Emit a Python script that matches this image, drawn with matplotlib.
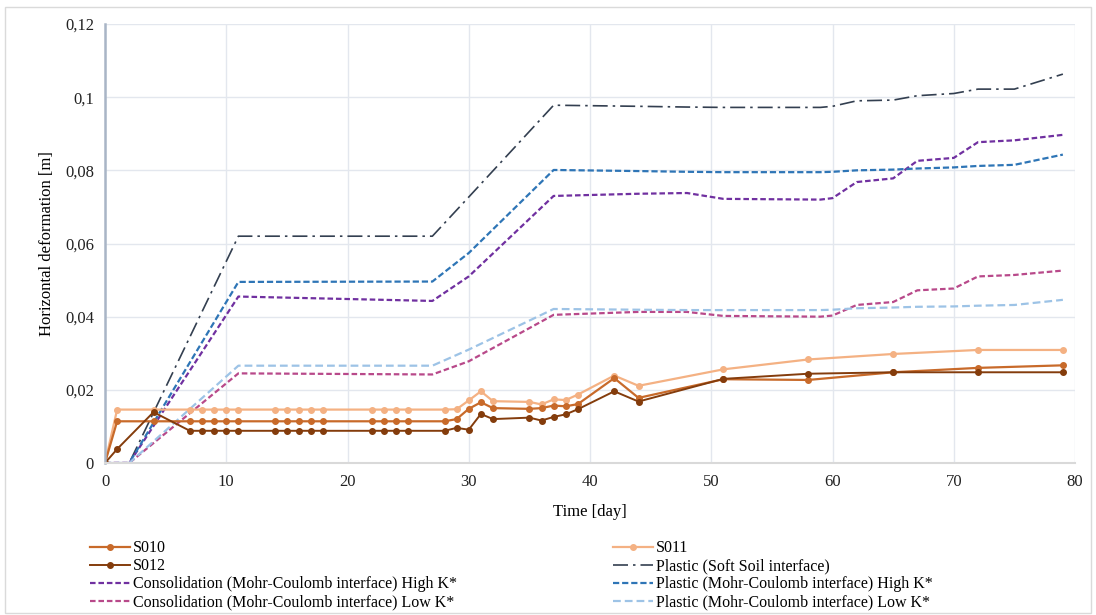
import matplotlib
matplotlib.use("Agg")
import matplotlib.pyplot as plt
from matplotlib.patches import Rectangle

# measured data (days and deformations in m)
days_meas = [0, 1, 4, 7, 8, 9, 10, 11, 14, 15, 16, 17, 18, 22, 23, 24, 25,
             28, 29, 30, 31, 32, 35, 36, 37, 38, 39, 42, 44, 51, 58, 65, 72, 79]
s010 = [0, 0.0114, 0.0114, 0.0114, 0.0114, 0.0114, 0.0114, 0.0114, 0.0114,
        0.0114, 0.0114, 0.0114, 0.0114, 0.0114, 0.0114, 0.0114, 0.0114,
        0.0114, 0.0120, 0.0148, 0.0166, 0.0150, 0.0148, 0.0150, 0.0157,
        0.0155, 0.0161, 0.0232, 0.0178, 0.0229, 0.0227, 0.0248, 0.0260, 0.0267]
s011 = [0, 0.0146, 0.0146, 0.0146, 0.0146, 0.0146, 0.0146, 0.0146, 0.0146,
        0.0146, 0.0146, 0.0146, 0.0146, 0.0146, 0.0146, 0.0146, 0.0146,
        0.0146, 0.0147, 0.0171, 0.0196, 0.0169, 0.0167, 0.0160, 0.0174,
        0.0172, 0.0187, 0.0239, 0.0211, 0.0256, 0.0283, 0.0298, 0.0309, 0.0309]
s012 = [0, 0.0038, 0.0139, 0.0088, 0.0088, 0.0088, 0.0088, 0.0088, 0.0088,
        0.0088, 0.0088, 0.0088, 0.0088, 0.0088, 0.0088, 0.0088, 0.0088,
        0.0088, 0.0096, 0.0091, 0.0134, 0.0120, 0.0124, 0.0116, 0.0126,
        0.0133, 0.0147, 0.0196, 0.0168, 0.0230, 0.0244, 0.0248, 0.0248, 0.0248]

# simulation results
days_sim = [0, 2, 11, 27, 30, 37, 44, 48, 51, 59, 60, 62, 65, 67, 70, 72, 75, 79]
plastic_ss = [0, 0, 0.0620, 0.0620, 0.0727, 0.0978, 0.0975, 0.0973, 0.0972,
              0.0972, 0.0975, 0.0990, 0.0992, 0.1004, 0.1010, 0.1022, 0.1022, 0.1063]
cons_high = [0, 0, 0.0455, 0.0443, 0.0510, 0.0730, 0.0736, 0.0738, 0.0722,
             0.0720, 0.0724, 0.0768, 0.0778, 0.0826, 0.0834, 0.0877, 0.0882, 0.0897]
plastic_high = [0, 0, 0.0495, 0.0496, 0.0574, 0.0801, 0.0798, 0.0796, 0.0795,
                0.0795, 0.0796, 0.0800, 0.0802, 0.0805, 0.0808, 0.0812, 0.0815, 0.0843]
cons_low = [0, 0, 0.0245, 0.0242, 0.0278, 0.0405, 0.0413, 0.0413, 0.0402,
            0.0400, 0.0403, 0.0432, 0.0440, 0.0472, 0.0477, 0.0510, 0.0514, 0.0526]
plastic_low = [0, 0, 0.0266, 0.0266, 0.0310, 0.0421, 0.0419, 0.0418, 0.0418,
               0.0418, 0.0419, 0.0423, 0.0425, 0.0427, 0.0428, 0.0430, 0.0432, 0.0446]

x_ticks = [0, 10, 20, 30, 40, 50, 60, 70, 80]
y_ticks = [0, 0.02, 0.04, 0.06, 0.08, 0.1, 0.12]
y_labels = ["0", "0,02", "0,04", "0,06", "0,08", "0,1", "0,12"]

plt.rcParams['font.family'] = ['Liberation Serif', 'DejaVu Serif']

fig = plt.figure(figsize=(10.96, 6.15), dpi=100)
ax = fig.add_axes([105 / 1096, 1 - 463 / 615, 970 / 1096, 439 / 615])

# outer chart border
fig.patches.append(Rectangle((5 / 1096, 0.003), 1086 / 1096, 1 - 7 / 615 - 0.003,
                             transform=fig.transFigure, fill=False,
                             edgecolor='#DADADA', linewidth=1))

# simulations
h_ss, = ax.plot(days_sim, plastic_ss, color='#333F50', lw=1.2,
                dashes=(9, 3, 1.5, 3), label='Plastic (Soft Soil interface)')
h_ch, = ax.plot(days_sim, cons_high, color='#7030A0', lw=1.6, dashes=(2.5, 1.3),
                label='Consolidation (Mohr-Coulomb interface) High K*')
h_ph, = ax.plot(days_sim, plastic_high, color='#2E75B6', lw=1.6, dashes=(2.8, 1.3),
                label='Plastic (Mohr-Coulomb interface) High K*')
h_cl, = ax.plot(days_sim, cons_low, color='#B8498A', lw=1.6, dashes=(2.5, 1.3),
                label='Consolidation (Mohr-Coulomb interface) Low K*')
h_pl, = ax.plot(days_sim, plastic_low, color='#9DC3E6', lw=1.6, dashes=(3.5, 1.8),
                label='Plastic (Mohr-Coulomb interface) Low K*')

# measurements
h_11, = ax.plot(days_meas, s011, color='#F4B183', lw=1.6, marker='o', ms=4, label='S011')
h_10, = ax.plot(days_meas, s010, color='#C86A2A', lw=1.6, marker='o', ms=4, label='S010')
h_12, = ax.plot(days_meas, s012, color='#843C0C', lw=1.4, marker='o', ms=4, label='S012')

ax.set_xlim(0, 80)
ax.set_ylim(0, 0.12)
ax.set_xticks(x_ticks)
ax.set_yticks(y_ticks)
ax.set_yticklabels(y_labels)
ax.tick_params(length=0, labelsize=12, pad=8, colors='#222222')
ax.grid(True, color='#E3E7EE', lw=1)
ax.set_axisbelow(True)
for s in ['top', 'right']:
    ax.spines[s].set_visible(False)
ax.spines['left'].set_color('#A9B5C6')
ax.spines['left'].set_linewidth(1.8)
ax.spines['bottom'].set_color('#D9D9D9')
ax.spines['bottom'].set_linewidth(1.5)

ax.set_xlabel('Time [day]', fontsize=12, labelpad=10)
ax.set_ylabel('Horizontal deformation [m]', fontsize=12, labelpad=7)

# legend: column-wise order
handles = [h_10, h_12, h_ch, h_cl, h_11, h_ss, h_ph, h_pl]
fig.legend(handles=handles, labels=[h.get_label() for h in handles],
           loc='upper left', bbox_to_anchor=(84 / 1096, 1 - 534 / 615),
           ncol=2, frameon=False, fontsize=11.5, handlelength=2.5,
           handletextpad=0.15, labelspacing=0.12, columnspacing=9.8,
           borderaxespad=0)

fig.savefig('out.png', dpi=100)
